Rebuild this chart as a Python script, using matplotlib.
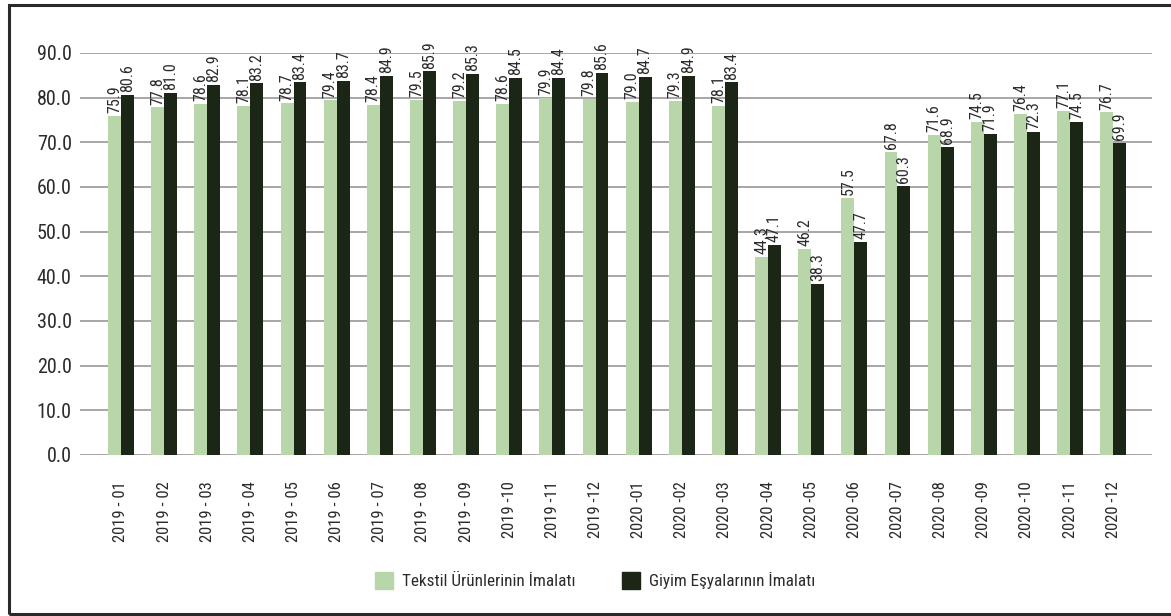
import matplotlib
matplotlib.use("Agg")
import matplotlib.pyplot as plt
import matplotlib.patches as mpatches
from matplotlib import font_manager
import numpy as np

# Data
months = ["2019 - 01", "2019 - 02", "2019 - 03", "2019 - 04", "2019 - 05", "2019 - 06",
          "2019 - 07", "2019 - 08", "2019 - 09", "2019 -10", "2019 -11", "2019 -12",
          "2020 -01", "2020 -02", "2020 -03", "2020 -04", "2020 -05", "2020 -06",
          "2020 -07", "2020 -08", "2020 -09", "2020 -10", "2020 -11", "2020 -12"]
tekstil = [75.9, 77.8, 78.6, 78.1, 78.7, 79.4, 78.4, 79.5, 79.2, 78.6, 79.9, 79.8,
           79.0, 79.3, 78.1, 44.3, 46.2, 57.5, 67.8, 71.6, 74.5, 76.4, 77.1, 76.7]
giyim = [80.6, 81.0, 82.9, 83.2, 83.4, 83.7, 84.9, 85.9, 85.3, 84.5, 84.4, 85.6,
         84.7, 84.9, 83.4, 47.1, 38.3, 47.7, 60.3, 68.9, 71.9, 72.3, 74.5, 69.9]
series_names = ["Tekstil Ürünlerinin İmalatı", "Giyim Eşyalarının İmalatı"]
y_ticks = [0, 10, 20, 30, 40, 50, 60, 70, 80, 90]

LIGHT = "#b9d6aa"
DARK = "#1b2616"
TEXT = "#2b2b2b"

# narrow font if one is around, else DejaVu condensed
names = {f.name for f in font_manager.fontManager.ttflist}
narrow = [n for n in ("Roboto Condensed", "Liberation Sans Narrow", "Open Sans Condensed")
          if n in names]
if narrow:
    plt.rcParams["font.family"] = [narrow[0], "DejaVu Sans"]
else:
    plt.rcParams["font.family"] = ["DejaVu Sans"]
    plt.rcParams["font.stretch"] = "condensed"

fig = plt.figure(figsize=(11.71, 6.16), dpi=100)
ax = fig.add_axes([0.0683, 0.2614, 0.9155, 0.6526])

x = np.arange(len(months))
w = 0.30
b1 = ax.bar(x - w / 2, tekstil, w, color=LIGHT, label=series_names[0], zorder=3)
b2 = ax.bar(x + w / 2, giyim, w, color=DARK, label=series_names[1], zorder=3)

# value labels above bars
for bars, vals in ((b1, tekstil), (b2, giyim)):
    for rect, v in zip(bars, vals):
        ax.annotate(f"{v:.1f}", (rect.get_x() + rect.get_width() / 2, v),
                    xytext=(0, 2), textcoords="offset points", rotation=90,
                    ha="center", va="bottom", fontsize=11.5, color=TEXT, zorder=4)

ax.set_xlim(-0.95, len(months) - 0.1)
ax.set_ylim(0, 90)
ax.set_yticks(y_ticks)
ax.set_yticklabels([f"{t:.1f}" for t in y_ticks])
ax.set_xticks(x)
ax.set_xticklabels(months, rotation=90)
ax.tick_params(axis="y", length=0, pad=6, labelsize=14.5, labelcolor=TEXT)
ax.tick_params(axis="x", length=0, pad=19, labelsize=12, labelcolor=TEXT)
for t in ax.get_xticklabels():
    t.set_va("top")

ax.yaxis.grid(True, color="#a6a6a6", linewidth=1.4, zorder=0)
ax.set_axisbelow(True)
for s in ax.spines.values():
    s.set_visible(False)

handles = [mpatches.Patch(color=LIGHT), mpatches.Patch(color=DARK)]
fig.legend(handles, series_names, loc="center", bbox_to_anchor=(0.508, 0.058), ncol=2,
           frameon=False, fontsize=12.3, handlelength=1.1, handleheight=1.2,
           handletextpad=0.5, columnspacing=2.7, labelcolor=TEXT)

# outer frame
frame = mpatches.Rectangle((9 / 1171, 2 / 616), 1.0, 1 - 6.5 / 616, transform=fig.transFigure,
                           fill=False, edgecolor="#2a2a2a", linewidth=2.2)
fig.patches.append(frame)

fig.savefig("out.png", dpi=100)
